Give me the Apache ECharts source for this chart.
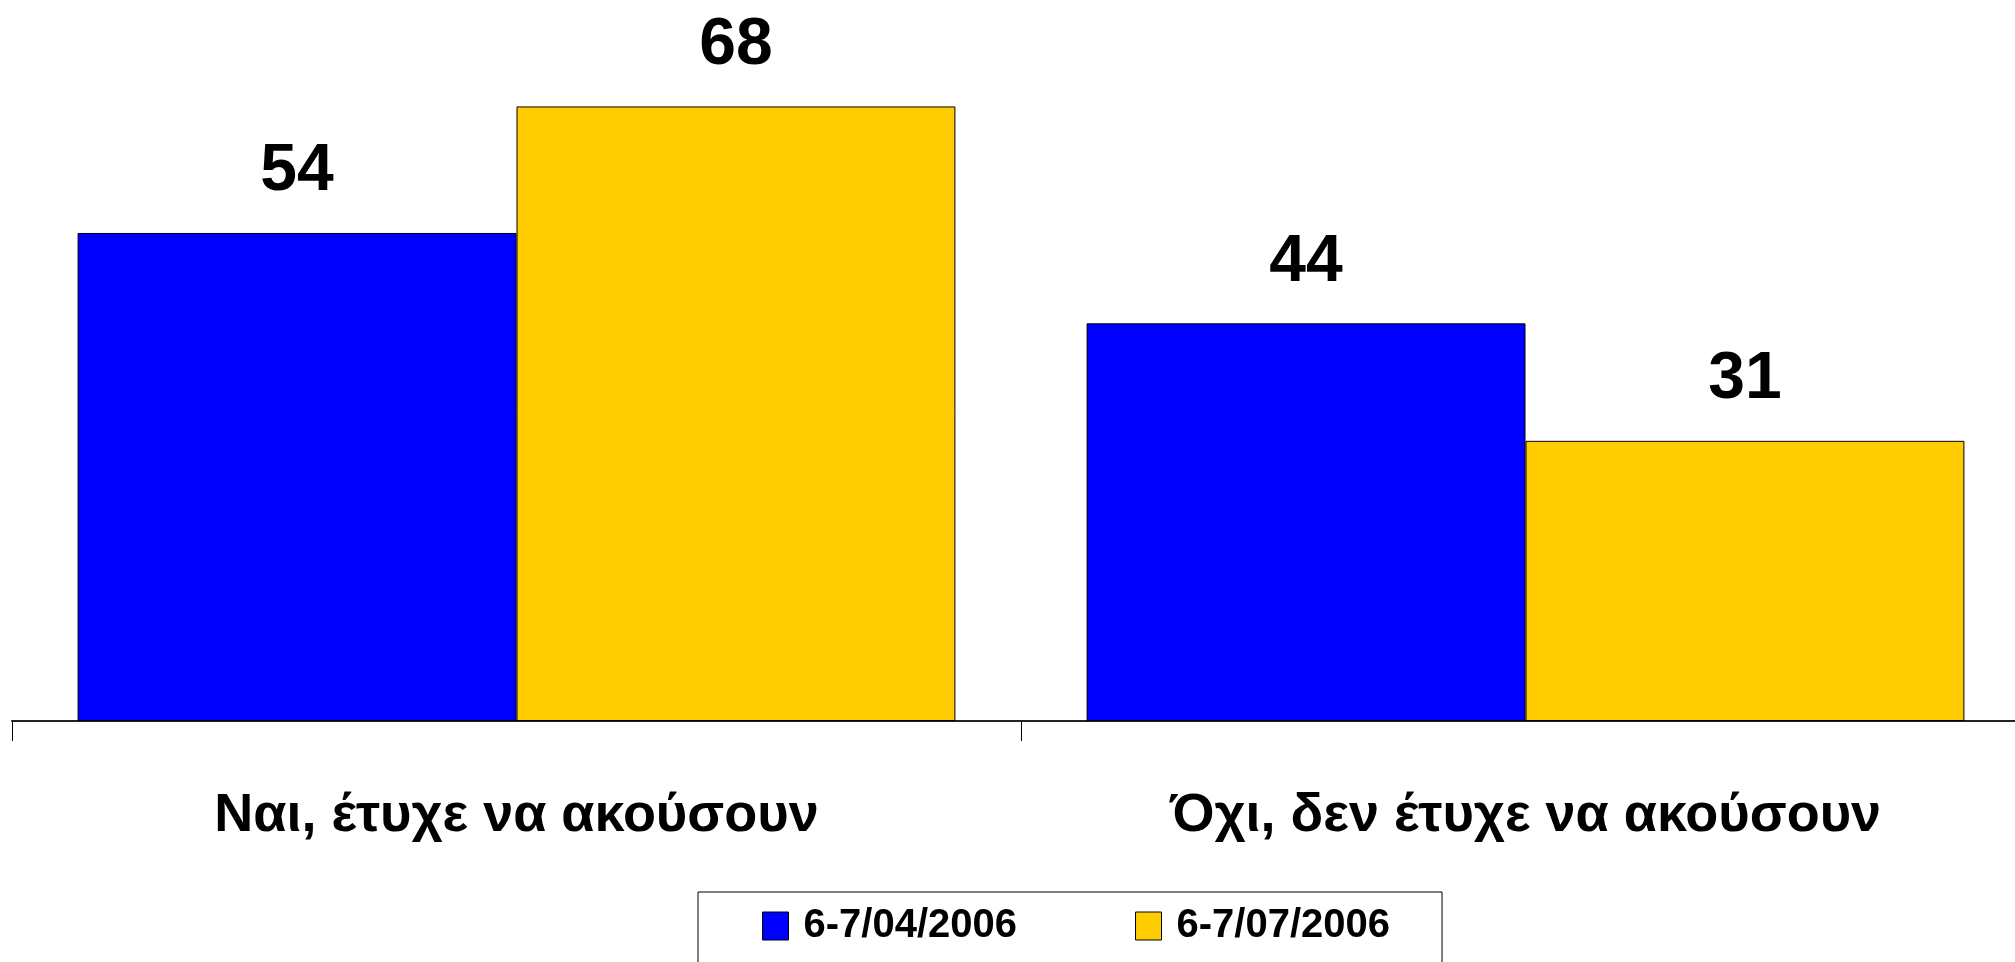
<!DOCTYPE html>
<html>
<head>
<meta charset="utf-8">
<script src="https://cdn.jsdelivr.net/npm/echarts@6/dist/echarts.min.js"></script>
<style>
  html, body { margin: 0; padding: 0; background: #fff; }
  #chart { width: 2015px; height: 962px; }
</style>
</head>
<body>
<div id="chart"></div>
<script>
const categories = ['Ναι, έτυχε να ακούσουν', 'Όχι, δεν έτυχε να ακούσουν']
const seriesNames = ['6-7/04/2006', '6-7/07/2006']
const aprilValues = [54, 44]
const julyValues = [68, 31]

const font = "'Liberation Sans Narrow', 'Liberation Sans', Arial, sans-serif"
const colors = ['#0000ff', '#ffcc00']

const chart = echarts.init(document.getElementById('chart'))

function makeSeries(name, data, color) {
  return {
    name: name,
    type: 'bar',
    data: data,
    barGap: '0%',
    barCategoryGap: '13%',
    itemStyle: {
      color: color,
      borderColor: '#000',
      borderWidth: 1,
    },
    label: {
      show: true,
      position: 'top',
      distance: 28,
      color: '#000',
      fontFamily: font,
      fontWeight: 'bold',
      fontSize: 66,
    },
  }
}

const option = {
  backgroundColor: '#fff',
  animation: false,
  legend: {
    left: 698,
    top: 892,
    padding: [14, 52, 60, 64],
    itemGap: 118,
    itemWidth: 26,
    itemHeight: 28,
    borderColor: '#000',
    borderWidth: 1,
    icon: 'rect',
    data: seriesNames,
    itemStyle: {
      borderColor: '#000',
      borderWidth: 1,
    },
    textStyle: {
      color: '#000',
      fontFamily: font,
      fontWeight: 'bold',
      fontSize: 40,
      padding: [0, 0, 0, 10],
    },
  },
  grid: {
    left: 12,
    right: -15,
    top: -2,
    bottom: 241,
    outerBoundsMode: 'none',
  },
  xAxis: {
    type: 'category',
    data: categories,
    axisLine: {
      lineStyle: { color: '#222', width: 2 },
    },
    axisTick: {
      show: true,
      length: 20,
      lineStyle: { color: '#000', width: 1 },
    },
    axisLabel: {
      margin: 68,
      color: '#000',
      fontFamily: font,
      fontWeight: 'bold',
      fontSize: 54,
    },
  },
  yAxis: {
    type: 'value',
    min: 0,
    max: 80,
    show: false,
    splitLine: { show: false },
  },
  series: [
    makeSeries(seriesNames[0], aprilValues, colors[0]),
    makeSeries(seriesNames[1], julyValues, colors[1]),
  ],
}

chart.setOption(option)
</script>
</body>
</html>
